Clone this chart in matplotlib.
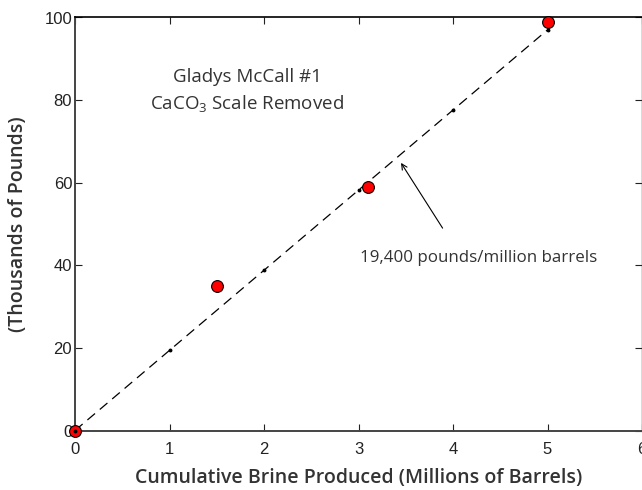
import numpy as np
import matplotlib.pyplot as plt

# measured scale removal, Gladys McCall #1
brine = [0, 1.5, 3.1, 5.0]           # millions of barrels
scale = [0, 35, 59, 99]              # thousands of pounds

# fitted trend, 19.4 thousand pounds per million barrels
fit_x = [0, 1, 2, 3, 4, 5]
slope = 19.4
fit_y = [slope * v for v in fit_x]

xticks = [0, 1, 2, 3, 4, 5, 6]
yticks = [0, 20, 40, 60, 80, 100]

label_font = 'Open Sans'
tick_font = 'Liberation Sans'
plt.rcParams['font.family'] = [label_font, 'DejaVu Sans']
plt.rcParams['mathtext.default'] = 'regular'

fig = plt.figure(figsize=(6.42, 4.90), dpi=100)
ax = fig.add_axes([75 / 642, 1 - 430.5 / 490, 567 / 642, 413 / 490])

ax.plot(fit_x, fit_y, color='black', linestyle=(0, (8, 5)), linewidth=0.9,
        marker='o', markersize=1.8, zorder=2)
ax.scatter(brine, scale, s=72, color='#ff0000', edgecolor='black',
           linewidth=0.8, zorder=3, clip_on=False)
ax.plot([0], [0], 'o', color='black', markersize=1.8, zorder=4, clip_on=False)

ax.set_xlim(0, 6)
ax.set_ylim(0, 100)
ax.set_xticks(xticks)
ax.set_yticks(yticks)
ax.tick_params(direction='in', top=True, right=True, length=5, width=0.8,
               labelsize=12, colors='#222222')
ax.tick_params(axis='x', pad=8)
ax.tick_params(axis='y', pad=2)
for lab in ax.get_xticklabels() + ax.get_yticklabels():
    lab.set_family(tick_font)

for side in ['left', 'bottom']:
    ax.spines[side].set_color('#444444')
    ax.spines[side].set_linewidth(1.4)
ax.spines['top'].set_linewidth(1.2)
ax.spines['right'].set_linewidth(1.0)
ax.spines['right'].set_color('#444444')

ax.set_xlabel('Cumulative Brine Produced (Millions of Barrels)',
              weight='semibold', fontsize=14, color='#333333', labelpad=8)
ax.set_ylabel('(Thousands of Pounds)', weight='semibold',
              fontsize=14, color='#333333', labelpad=12)

ax.text(1.82, 85.6, 'Gladys McCall #1', ha='center', va='center',
        fontsize=13.5, color='#333333')
ax.text(1.82, 79.2, r'CaCO$_3$ Scale Removed', ha='center', va='center',
        fontsize=13.5, color='#333333')

ax.annotate('', xy=(3.45, 64.8), xytext=(3.89, 49),
            arrowprops=dict(arrowstyle='->', color='black', lw=0.8,
                            shrinkA=0, shrinkB=0))
ax.text(4.27, 41.8, '19,400 pounds/million barrels', ha='center',
        va='center', fontsize=12.2, color='#333333')

fig.savefig('out.png', dpi=100)
